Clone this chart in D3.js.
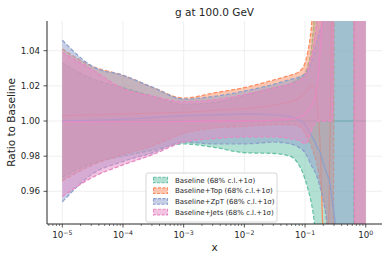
<!DOCTYPE html>
<html>
<head>
<meta charset="utf-8">
<script src="https://cdn.jsdelivr.net/npm/d3@7"></script>
<style>
  body { margin: 0; background: #fff; }
  svg { display: block; font-family: "DejaVu Sans", sans-serif; }
</style>
</head>
<body>
<svg width="391" height="260"></svg>
<script>
// log10(x) grid shared by all series
const logX = [-5, -4.5, -4, -3.5, -3, -2.5, -2, -1.5, -1.25, -1.1, -1.0, -0.95, -0.9, -0.85, -0.8, -0.75, -0.7, -0.65, -0.6, -0.55, -0.5, -0.4, -0.3, -0.22, -0.16, -0.08, 0];

// Baseline
const baseMid = [1, 1, 1, 1, 1, 1, 1, 1, 1, 1, 1, 1, 1, 1, 1, 1, 1, 1, 1, 1, 1, 1, 1, 1, 1, 1, 1];
const baseUp = [1.033, 1.024, 1.019, 1.014, 1.0095, 1.0105, 1.0145, 1.019, 1.021, 1.024, 1.027, 1.032, 1.040, 1.058, 1.09, 1.15, 1.2, 1.2, 1.2, 1.2, 1.2, 1.2, 1.2, 1.2, 1.3, 1.3, 1.3];
const baseLo = [0.968, 0.976, 0.980, 0.9835, 0.987, 0.985, 0.982, 0.9815, 0.980, 0.975, 0.967, 0.961, 0.954, 0.943, 0.92, 0.88, 0.8, 0.8, 0.8, 0.8, 0.8, 0.8, 0.8, 0.8, 1.22, 1.22, 1.22];

// Baseline+Top
const topMid = [1.003, 1.0035, 1.004, 1.0045, 1.005, 1.006, 1.007, 1.009, 1.011, 1.013, 1.016, 1.018, 1.020, 1.019, 1.010, 0.985, 0.93, 0.90, 0.96, 1.1, 1.2, 1.2, 1.2, 1.2, 1.2, 1.2, 1.2];
const topUp = [1.041, 1.031, 1.026, 1.019, 1.013, 1.016, 1.019, 1.0235, 1.026, 1.028, 1.033, 1.040, 1.052, 1.075, 1.1, 1.15, 1.2, 1.3, 1.3, 1.3, 1.3, 1.3, 1.3, 1.3, 1.3, 1.3, 1.3];
const topLo = [0.966, 0.975, 0.981, 0.986, 0.993, 0.996, 0.997, 0.998, 0.998, 0.997, 0.993, 0.99, 0.986, 0.981, 0.975, 0.965, 0.955, 0.945, 0.9, 0.8, 1.25, 1.25, 1.25, 1.25, 0.75, 0.75, 0.75];

// Baseline+ZpT
const zptMid = [1.0, 1.0005, 1.001, 1.002, 1.003, 1.0035, 1.004, 1.0035, 1.0025, 1.0005, 0.998, 0.995, 0.992, 0.989, 0.985, 0.982, 0.976, 0.971, 0.966, 0.955, 0.94, 0.88, 0.8, 0.8, 0.8, 0.8, 0.8];
const zptUp = [1.046, 1.031, 1.026, 1.019, 1.0125, 1.014, 1.017, 1.021, 1.0235, 1.025, 1.027, 1.029, 1.033, 1.0395, 1.046, 1.052, 1.057, 1.063, 1.1, 1.2, 1.25, 1.25, 1.25, 1.25, 1.25, 1.25, 1.25];
const zptLo = [0.954, 0.970, 0.977, 0.982, 0.988, 0.987, 0.987, 0.988, 0.987, 0.985, 0.982, 0.979, 0.975, 0.972, 0.968, 0.962, 0.955, 0.945, 0.93, 0.9, 0.8, 0.75, 0.75, 0.75, 0.75, 0.75, 0.75];

// Baseline+Jets
const jetsMid = [0.9995, 0.9995, 0.9995, 0.9995, 0.9998, 1.0, 1.0, 1.0005, 1.001, 1.002, 1.004, 1.006, 1.008, 1.012, 1.02, 1.04, 1.07, 1.1, 1.1, 1.1, 1.1, 1.1, 1.1, 1.1, 1.1, 1.1, 1.1];
const jetsUp = [1.039, 1.029, 1.0185, 1.014, 1.011, 1.012, 1.015, 1.019, 1.021, 1.023, 1.026, 1.030, 1.036, 1.045, 1.06, 1.1, 1.15, 1.2, 1.25, 1.3, 1.3, 1.3, 1.3, 1.3, 1.3, 1.3, 1.3];
const jetsLo = [0.957, 0.968, 0.975, 0.981, 0.988, 0.990, 0.991, 0.991, 0.990, 0.989, 0.987, 0.989, 0.994, 0.998, 1.0, 1.0, 1.0, 1.0, 1.0, 1.0, 1.25, 1.25, 1.25, 1.25, 0.75, 0.75, 0.75];

const seriesNames = ["Baseline", "Baseline+Top", "Baseline+ZpT", "Baseline+Jets"];
const colors = ["#66c2a5", "#fc8d62", "#8da0cb", "#e78ac3"];
const yTicks = [0.96, 0.98, 1.00, 1.02, 1.04];
const xTickExp = [-5, -4, -3, -2, -1, 0];

const allMid = [baseMid, topMid, zptMid, jetsMid];
const allUp = [baseUp, topUp, zptUp, jetsUp];
const allLo = [baseLo, topLo, zptLo, jetsLo];

const series = seriesNames.map((name, s) => ({
    name: name,
    color: colors[s],
    points: logX.map((lx, i) => ({ x: Math.pow(10, lx), mid: allMid[s][i], hi: allUp[s][i], lo: allLo[s][i] }))
}));

const svg = d3.select('svg');
const margin = { top: 21, right: 9, bottom: 36, left: 47 };
const width = +svg.attr('width');
const height = +svg.attr('height');
const innerWidth = width - margin.left - margin.right;
const innerHeight = height - margin.top - margin.bottom;

// scales map straight to page pixels
const xScale = d3.scaleLog()
    .domain([Math.pow(10, -5.252), Math.pow(10, 0.268)])
    .range([margin.left, margin.left + innerWidth]);
const yScale = d3.scaleLinear()
    .domain([0.9414, 1.0569])
    .range([margin.top + innerHeight, margin.top]);
const bottomY = margin.top + innerHeight;

svg.append('defs').append('clipPath').attr('id', 'plotclip')
    .append('rect').attr('x', margin.left).attr('y', margin.top)
    .attr('width', innerWidth).attr('height', innerHeight);

// grid
svg.append('g').selectAll('line')
    .data(xTickExp).enter().append('line')
    .attr('x1', d => xScale(Math.pow(10, d))).attr('x2', d => xScale(Math.pow(10, d)))
    .attr('y1', margin.top).attr('y2', bottomY)
    .attr('stroke', '#ebebeb').attr('stroke-width', 0.8);
svg.append('g').selectAll('line')
    .data(yTicks).enter().append('line')
    .attr('y1', d => yScale(d)).attr('y2', d => yScale(d))
    .attr('x1', margin.left).attr('x2', margin.left + innerWidth)
    .attr('stroke', '#ebebeb').attr('stroke-width', 0.8);

const plot = svg.append('g').attr('clip-path', 'url(#plotclip)');

const area = d3.area()
    .x(d => xScale(d.x))
    .y0(d => yScale(d.lo))
    .y1(d => yScale(d.hi))
    .curve(d3.curveMonotoneX);
const lineOf = key => d3.line()
    .x(d => xScale(d.x))
    .y(d => yScale(d[key]))
    .curve(d3.curveMonotoneX);

series.forEach(s => {
    plot.append('path').datum(s.points)
        .attr('d', area)
        .attr('fill', s.color).attr('fill-opacity', 0.5);
    ['hi', 'lo'].forEach(k => {
        plot.append('path').datum(s.points)
            .attr('d', lineOf(k))
            .attr('fill', 'none').attr('stroke', s.color)
            .attr('stroke-width', 1.3).attr('stroke-dasharray', '4,2');
    });
    plot.append('path').datum(s.points)
        .attr('d', lineOf('mid'))
        .attr('fill', 'none').attr('stroke', s.color)
        .attr('stroke-width', 1.3);
});

// x axis
const minorTicks = [];
for (let e = -6; e <= 0; e++) {
    for (let m = 2; m <= 9; m++) {
        const v = m * Math.pow(10, e);
        if (v >= xScale.domain()[0] && v <= xScale.domain()[1]) minorTicks.push(v);
    }
}
const xAxis = svg.append('g').attr('class', 'ax x');
xAxis.append('line')
    .attr('x1', margin.left).attr('x2', margin.left + innerWidth)
    .attr('y1', bottomY).attr('y2', bottomY)
    .attr('stroke', '#262626').attr('stroke-width', 1);
xAxis.selectAll('.minor').data(minorTicks).enter().append('line')
    .attr('x1', d => xScale(d)).attr('x2', d => xScale(d))
    .attr('y1', bottomY).attr('y2', bottomY + 2)
    .attr('stroke', '#262626').attr('stroke-width', 0.6);
xAxis.selectAll('.major').data(xTickExp).enter().append('line')
    .attr('x1', d => xScale(Math.pow(10, d))).attr('x2', d => xScale(Math.pow(10, d)))
    .attr('y1', bottomY).attr('y2', bottomY + 3.5)
    .attr('stroke', '#262626').attr('stroke-width', 0.8);

// "10" plus a raised exponent, centred as a pair on the tick
xTickExp.forEach(d => {
    const cx = xScale(Math.pow(10, d));
    const b = xAxis.append('text')
        .attr('y', bottomY + 14).attr('font-size', 8.7).attr('fill', '#262626')
        .text('10');
    const e = xAxis.append('text')
        .attr('y', bottomY + 10.5).attr('font-size', 6.2).attr('fill', '#262626')
        .text(d < 0 ? '\u2212' + (-d) : '' + d);
    const wb = b.node().getComputedTextLength();
    const we = e.node().getComputedTextLength();
    const start = cx - (wb + we) / 2;
    b.attr('x', start);
    e.attr('x', start + wb);
});

// y axis
const yAxis = svg.append('g').attr('class', 'ax y');
yAxis.append('line')
    .attr('x1', margin.left).attr('x2', margin.left)
    .attr('y1', margin.top).attr('y2', bottomY)
    .attr('stroke', '#262626').attr('stroke-width', 1);
yAxis.selectAll('.tick').data(yTicks).enter().append('line')
    .attr('x1', margin.left).attr('x2', margin.left - 3.5)
    .attr('y1', d => yScale(d)).attr('y2', d => yScale(d))
    .attr('stroke', '#262626').attr('stroke-width', 0.8);
yAxis.selectAll('text').data(yTicks).enter().append('text')
    .attr('x', margin.left - 7).attr('y', d => yScale(d) + 3).attr('text-anchor', 'end')
    .attr('font-size', 8.7).attr('fill', '#262626')
    .text(d => d.toFixed(2));

// title and labels
svg.append('text')
    .attr('x', margin.left + innerWidth / 2).attr('y', 16)
    .attr('text-anchor', 'middle').attr('font-size', 10.5).attr('fill', '#262626')
    .text('g at 100.0 GeV');
svg.append('text')
    .attr('x', margin.left + innerWidth / 2).attr('y', 251)
    .attr('text-anchor', 'middle').attr('font-size', 10.5).attr('fill', '#262626')
    .text('x');
svg.append('text')
    .attr('transform', `translate(14.5,${margin.top + innerHeight / 2}) rotate(-90)`)
    .attr('text-anchor', 'middle').attr('font-size', 10.5).attr('fill', '#262626')
    .text('Ratio to Baseline');

// legend
const legX = 146, legY = 173;
const legend = svg.append('g').attr('class', 'legend');
legend.append('rect')
    .attr('x', legX).attr('y', legY)
    .attr('width', 131).attr('height', 49).attr('rx', 2)
    .attr('fill', '#fff').attr('fill-opacity', 0.85)
    .attr('stroke', '#cccccc').attr('stroke-width', 0.8);
legend.selectAll('.patch').data(series).enter().append('rect')
    .attr('x', legX + 7.5).attr('y', (d, i) => legY + 7 + i * 10.7 - 2.8)
    .attr('width', 14).attr('height', 5.6)
    .attr('fill', d => d.color).attr('fill-opacity', 0.5)
    .attr('stroke', d => d.color).attr('stroke-width', 1.1).attr('stroke-dasharray', '3,1.5');
legend.selectAll('text').data(series).enter().append('text')
    .attr('x', legX + 29).attr('y', (d, i) => legY + 7 + i * 10.7 + 2.5)
    .attr('font-size', 7).attr('fill', '#262626')
    .text(d => d.name + ' (68% c.l.+1\u03c3)');
</script>
</body>
</html>
